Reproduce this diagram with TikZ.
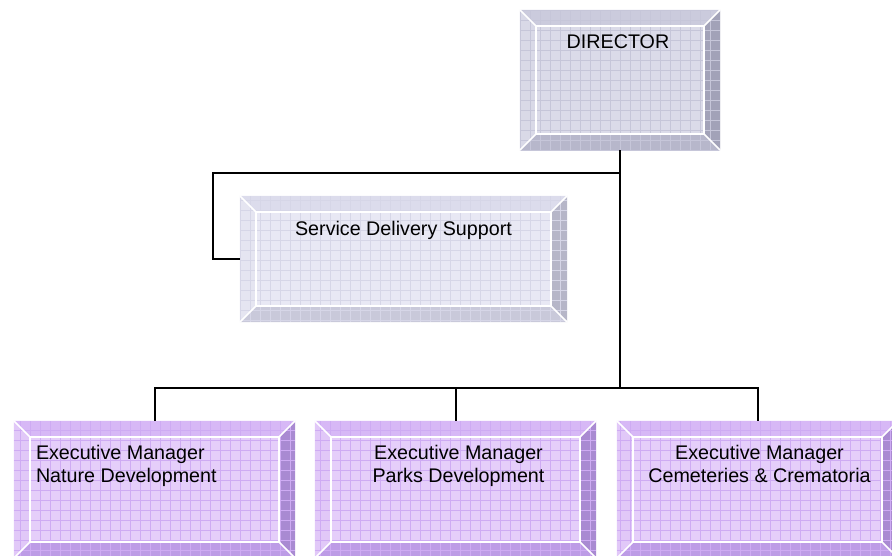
\documentclass[tikz,border=0pt]{standalone}
\usepackage{fontspec}
\setmainfont{Liberation Sans}
\usetikzlibrary{calc}

\definecolor{greyface}{HTML}{DBDBE9}
\definecolor{greytop}{HTML}{CBCBDD}
\definecolor{greyleft}{HTML}{D9D9E7}
\definecolor{greyright}{HTML}{A2A2B8}
\definecolor{greybottom}{HTML}{B7B7CB}
\definecolor{greygrid}{HTML}{C6C6D9}
\definecolor{paleface}{HTML}{E8E8F4}
\definecolor{paletop}{HTML}{DCDCEC}
\definecolor{paleleft}{HTML}{E5E5F1}
\definecolor{paleright}{HTML}{B6B6C8}
\definecolor{palebottom}{HTML}{C9C9DA}
\definecolor{palegrid}{HTML}{D6D6E7}
\definecolor{lilaface}{HTML}{E5CEFA}
\definecolor{lilatop}{HTML}{D7B8F6}
\definecolor{lilaleft}{HTML}{E1C8F8}
\definecolor{lilaright}{HTML}{A98AD2}
\definecolor{lilabottom}{HTML}{BD9CE6}
\definecolor{lilagrid}{HTML}{CEABF3}

% bevelled box drawn round an empty node
% #1 node, #2 face, #3 top, #4 left, #5 right, #6 bottom, #7 grid
\newcommand{\bevelbox}[7]{%
  \fill[#2] (#1.north west) rectangle (#1.south east);
  \fill[#3] (#1.north west) -- (#1.north east) -- ($(#1.north east)+(-16,16)$) -- ($(#1.north west)+(16,16)$) -- cycle;
  \fill[#4] (#1.north west) -- ($(#1.north west)+(16,16)$) -- ($(#1.south west)+(16,-16)$) -- (#1.south west) -- cycle;
  \fill[#5] (#1.north east) -- ($(#1.north east)+(-16,16)$) -- ($(#1.south east)+(-16,-16)$) -- (#1.south east) -- cycle;
  \fill[#6] (#1.south west) -- ($(#1.south west)+(16,-16)$) -- ($(#1.south east)+(-16,-16)$) -- (#1.south east) -- cycle;
  \begin{scope}
    \clip (#1.north west) rectangle (#1.south east);
    \draw[#7, line width=0.6pt, step=10pt] (#1.south west) grid (#1.north east);
  \end{scope}
  \draw[white, line width=1.5pt] ($(#1.north west)+(16,16)$) rectangle ($(#1.south east)+(-16,-16)$);
  \draw[white, line width=1.5pt] (#1.north west) -- ++(16,16) (#1.north east) -- ++(-16,16)
    (#1.south west) -- ++(16,-16) (#1.south east) -- ++(-16,-16);
}

\begin{document}
\begin{tikzpicture}[x=1pt, y=-1pt,
    orgbox/.style={inner sep=0pt, minimum width=281pt, minimum height=137pt},
    lbl/.style={font=\fontsize{19.7}{23}\selectfont, inner sep=0pt, align=center},
    conn/.style={line width=2pt, black}]
    \useasboundingbox (0,0) rectangle (892,555);

    \node[orgbox, minimum width=200pt, minimum height=140pt] (dir) at (620,80) {};
    \node[orgbox, minimum width=327pt, minimum height=126pt] (sds) at (403.5,259) {};
    \node[orgbox] (nature) at (154.5,489.5) {};
    \node[orgbox] (parks) at (455.5,489.5) {};
    \node[orgbox] (crem) at (757.5,489.5) {};

    \bevelbox{dir}{greyface}{greytop}{greyleft}{greyright}{greybottom}{greygrid}
    \bevelbox{sds}{paleface}{paletop}{paleleft}{paleright}{palebottom}{palegrid}
    \bevelbox{nature}{lilaface}{lilatop}{lilaleft}{lilaright}{lilabottom}{lilagrid}
    \bevelbox{parks}{lilaface}{lilatop}{lilaleft}{lilaright}{lilabottom}{lilagrid}
    \bevelbox{crem}{lilaface}{lilatop}{lilaleft}{lilaright}{lilabottom}{lilagrid}

    \node[lbl, anchor=north] (dirtxt) at ($(dir.north)+(-2,25)$) {DIRECTOR};
    \node[lbl, anchor=north] (sdstxt) at ($(sds.north)+(0,25)$) {Service Delivery Support};
    \node[lbl, anchor=north west, align=left] (naturetxt) at ($(nature.north west)+(22,24)$)
        {Executive Manager\\Nature Development};
    \node[lbl, anchor=north] (parkstxt) at ($(parks.north)+(3,24)$)
        {Executive Manager\\Parks Development};
    \node[lbl, anchor=north] (cremtxt) at ($(crem.north)+(2,24)$)
        {Executive Manager\\Cemeteries \& Crematoria};

    % connectors
    \coordinate (split) at ($(dir.south)+(0,23)$);
    \coordinate (bus) at ($(dir.south)+(0,238)$);
    \draw[conn] (dir.south) -- (bus);
    \draw[conn] (split) -| ($(sds.west)+(-27,0)$) -- (sds.west);
    \draw[conn] (nature.north) -- (nature.north |- bus) -- (crem.north |- bus) -- (crem.north);
    \draw[conn] (parks.north) -- (parks.north |- bus);
\end{tikzpicture}
\end{document}
